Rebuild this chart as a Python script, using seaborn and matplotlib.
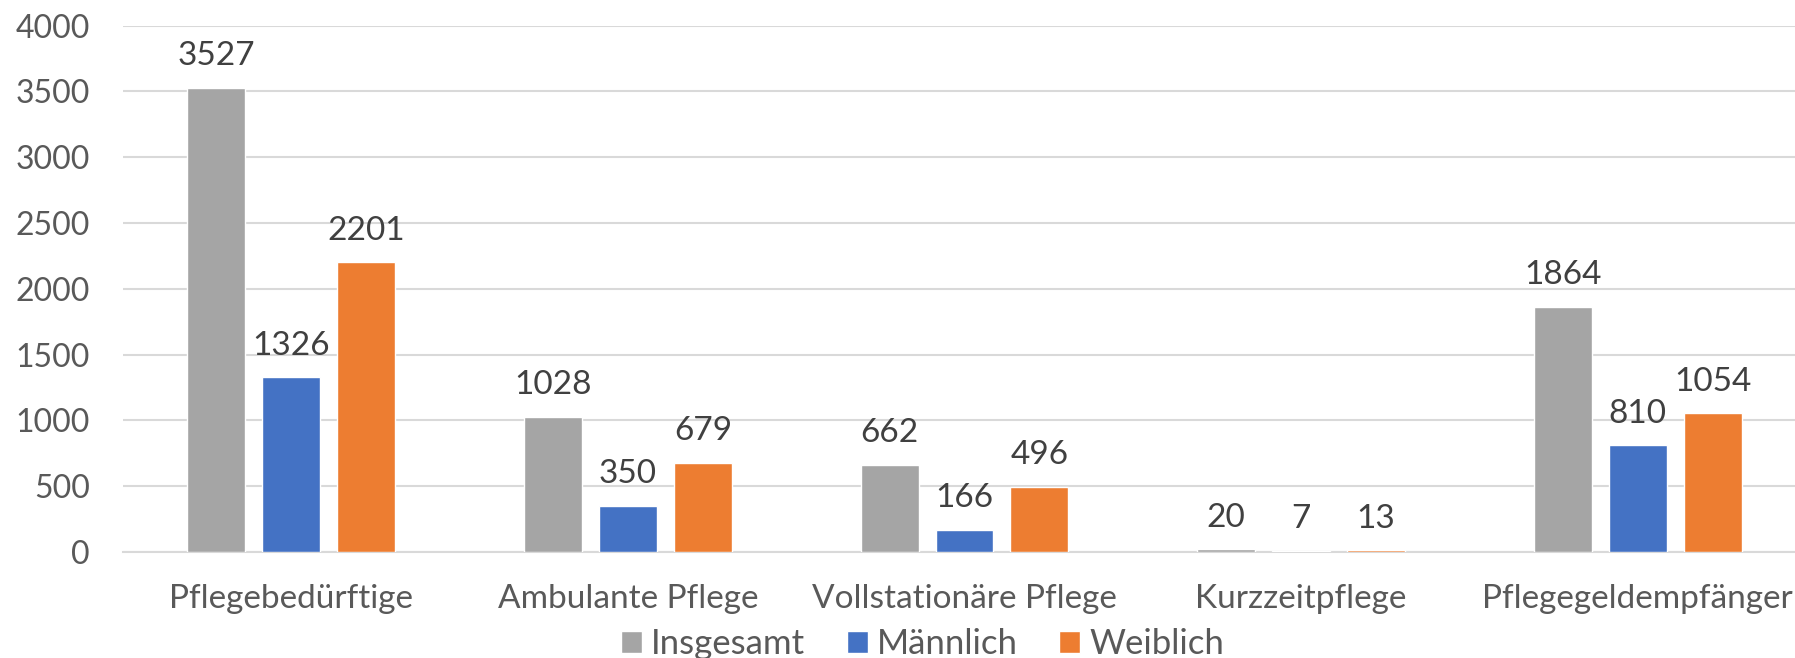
import matplotlib
matplotlib.use("Agg")
import matplotlib.pyplot as plt
from matplotlib.patches import Patch
import pandas as pd
import seaborn as sns

# data
categories = ["Pflegebedürftige", "Ambulante Pflege", "Vollstationäre Pflege",
              "Kurzzeitpflege", "Pflegegeldempfänger"]
series_names = ["Insgesamt", "Männlich", "Weiblich"]
insgesamt = [3527, 1028, 662, 20, 1864]
maennlich = [1326, 350, 166, 7, 810]
weiblich = [2201, 679, 496, 13, 1054]
yticks = [0, 500, 1000, 1500, 2000, 2500, 3000, 3500, 4000]

colors = ["#A5A5A5", "#4472C4", "#ED7D31"]

df = pd.DataFrame({
    "Kategorie": categories * 3,
    "Gruppe": [series_names[0]] * 5 + [series_names[1]] * 5 + [series_names[2]] * 5,
    "Anzahl": insgesamt + maennlich + weiblich,
})

sns.set_style("white")
plt.rcParams["font.family"] = ["Lato", "DejaVu Sans"]

fig = plt.figure(figsize=(17.95, 6.58), dpi=100)
# plot area runs a bit past the right edge, like the cropped original
ax = fig.add_axes([123 / 1795, 106 / 658, 1683 / 1795, 526.5 / 658])

sns.barplot(data=df, x="Kategorie", y="Anzahl", hue="Gruppe", order=categories,
            hue_order=series_names, palette=colors, width=0.668, gap=0.227,
            saturation=1, ax=ax, legend=False, zorder=3)

for cont in ax.containers:
    ax.bar_label(cont, fmt="%d", padding=12, fontsize=24, color="#404040")

ax.set_xlim(-0.5, 4.5)
ax.set_ylim(0, 4000)
ax.set_yticks(yticks)
ax.set_yticklabels([str(v) for v in yticks])
ax.yaxis.grid(True, color="#D9D9D9", linewidth=1.5, zorder=0)
ax.set_xlabel("")
ax.set_ylabel("")
for s in ["top", "right", "left"]:
    ax.spines[s].set_visible(False)
ax.spines["bottom"].set_color("#D9D9D9")
ax.spines["bottom"].set_linewidth(1.5)
ax.tick_params(axis="y", length=0, pad=24, labelsize=23, labelcolor="#595959")
ax.tick_params(axis="x", length=0, pad=23, labelsize=24, labelcolor="#595959")

handles = [Patch(facecolor=c, label=n) for c, n in zip(colors, series_names)]
fig.legend(handles=handles, loc="center", bbox_to_anchor=(0.514, 0.021), ncol=3,
           frameon=False, fontsize=25, labelcolor="#595959", handlelength=0.6,
           handleheight=0.6, handletextpad=0.26, columnspacing=1.2,
           borderpad=0, borderaxespad=0)

fig.savefig("out.png", dpi=100)
